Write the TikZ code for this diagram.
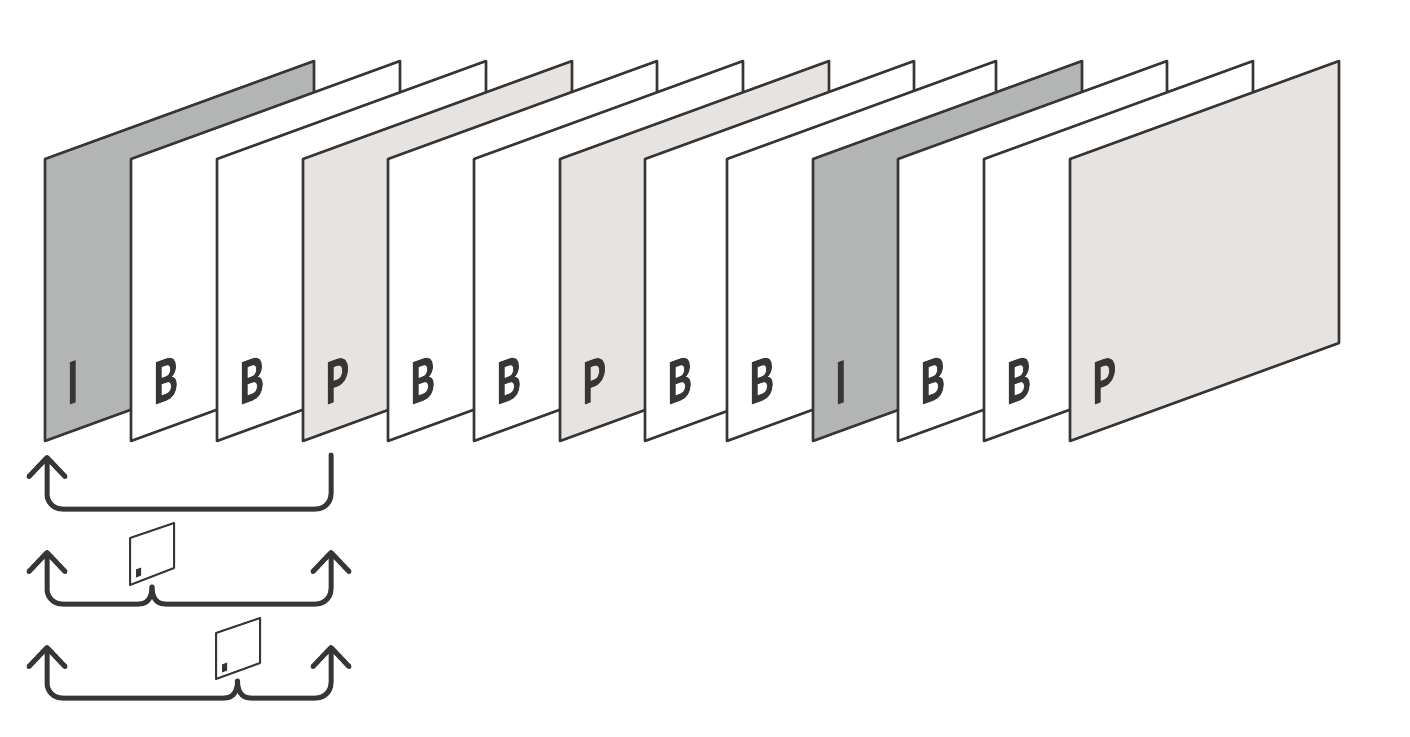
\documentclass[tikz,border=0pt]{standalone}
\usepackage{fontspec}
\setmainfont{Lato}
\newfontfamily\framefont{Lato}[BoldFeatures={FakeBold=1.6}]
\usepackage{tikz}
\usetikzlibrary{arrows.meta, calc}
\definecolor{inkdark}{HTML}{363636}
\definecolor{intrafill}{HTML}{B3B5B4}
\definecolor{predfill}{HTML}{E6E3E0}
\tikzset{
  frameline/.style={draw=inkdark, line width=2.6pt, line join=round},
  smallframe/.style={draw=inkdark, fill=white, line width=2pt, line join=round},
  framelabel/.style={anchor=base west, inner sep=0pt, text=inkdark, font=\framefont\bfseries\fontsize{57}{57}\selectfont,
    xscale=0.66, yslant=0.24},
  reflink/.style={draw=inkdark, line width=5pt, line cap=round},
  reftip/.tip={Straight Barb[length=19pt, width=36pt, round]}
}
\begin{document}
\begin{tikzpicture}[x=1pt, y=-1pt]
  \useasboundingbox (0,0) rectangle (1410,736);
  % Frames, back to front
  \foreach \fx/\fcol/\flab [count=\i] in {45/intrafill/I, 131/white/B, 217/white/B, 303/predfill/P,
      388/white/B, 474/white/B, 560/predfill/P, 645/white/B, 727/white/B,
      813/intrafill/I, 898/white/B, 984/white/B, 1070/predfill/P} {
    \draw[frameline, fill=\fcol] (\fx,159) -- (\fx+269,61) -- (\fx+269,343) -- (\fx,441) -- cycle;
    \node[framelabel] (lab\i) at (\fx+22,405) {\flab};
  }
  % Reference ends
  \coordinate (tipA) at (47,455);
  \coordinate (endA) at (331,455);
  \coordinate (baseA) at (47,509);
  \coordinate (tipB) at (47,550);
  \coordinate (endB) at (331,550);
  \coordinate (baseB) at (47,604);
  \coordinate (tipC) at (47,645);
  \coordinate (endC) at (331,645);
  \coordinate (baseC) at (47,698);
  \coordinate (braceB) at (152,587);
  \coordinate (braceC) at (237.5,681);
  % Forward prediction
  \draw[reflink, rounded corners=15pt, -{reftip}] (endA) -- (endA |- baseA) -- (baseA) -- (tipA);
  % Bidirectional, first B
  \draw[reflink, -{reftip}] (braceB) .. controls (152,597) and (148,604) .. (139,604) [rounded corners=15pt] -- (baseB) -- (tipB);
  \draw[reflink, -{reftip}] (braceB) .. controls (152,597) and (156,604) .. (165,604) [rounded corners=15pt] -- (endB |- baseB) -- (endB);
  % Bidirectional, second B
  \draw[reflink, -{reftip}] (braceC) .. controls (237.5,691) and (233.5,698) .. (224.5,698) [rounded corners=15pt] -- (baseC) -- (tipC);
  \draw[reflink, -{reftip}] (braceC) .. controls (237.5,691) and (241.5,698) .. (250.5,698) [rounded corners=15pt] -- (endC |- baseC) -- (endC);
  % Small frames with a block
  \draw[smallframe] (130,538) -- (174,523) -- (174,568) -- (130,585) -- cycle;
  \fill[inkdark] (136,569.5) -- (141,567.5) -- (141,575.5) -- (136,577.5) -- cycle;
  \draw[smallframe] (216,633) -- (260,618) -- (260,663) -- (216,679) -- cycle;
  \fill[inkdark] (222,664.5) -- (227,662.5) -- (227,670.5) -- (222,672.5) -- cycle;
\end{tikzpicture}
\end{document}
